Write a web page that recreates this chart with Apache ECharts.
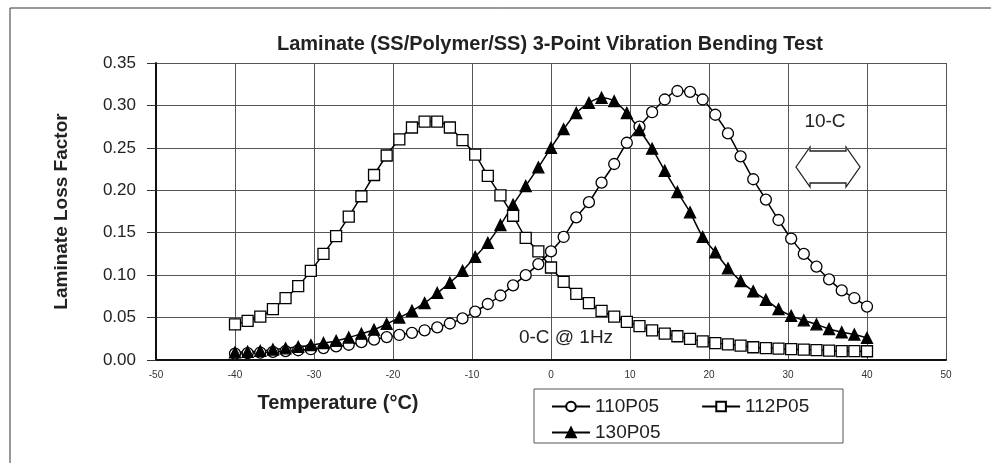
<!DOCTYPE html>
<html>
<head>
<meta charset="utf-8">
<script src="https://cdn.jsdelivr.net/npm/echarts@6/dist/echarts.min.js"></script>
<style>
  html, body { margin: 0; padding: 0; background: #fff; }
  #chart { width: 991px; height: 463px; }
</style>
</head>
<body>
<div id="chart"></div>
<script>
// temperature (°C) of each measured point
const temps = [-40, -38.4, -36.8, -35.2, -33.6, -32, -30.4, -28.8, -27.2, -25.6,
  -24, -22.4, -20.8, -19.2, -17.6, -16, -14.4, -12.8, -11.2, -9.6,
  -8, -6.4, -4.8, -3.2, -1.6, 0, 1.6, 3.2, 4.8, 6.4,
  8, 9.6, 11.2, 12.8, 14.4, 16, 17.6, 19.2, 20.8, 22.4,
  24, 25.6, 27.2, 28.8, 30.4, 32, 33.6, 35.2, 36.8, 38.4, 40];

const loss110 = [0.0075, 0.008, 0.0088, 0.0095, 0.0105, 0.0115, 0.0127, 0.014, 0.016, 0.018,
  0.021, 0.024, 0.027, 0.0295, 0.032, 0.035, 0.0385, 0.043, 0.049, 0.057,
  0.066, 0.076, 0.088, 0.100, 0.113, 0.128, 0.145, 0.168, 0.186, 0.209,
  0.231, 0.256, 0.275, 0.292, 0.307, 0.317, 0.316, 0.307, 0.289, 0.267,
  0.240, 0.213, 0.189, 0.165, 0.143, 0.125, 0.110, 0.095, 0.082, 0.073, 0.063];

const loss112 = [0.042, 0.046, 0.051, 0.060, 0.073, 0.087, 0.105, 0.125, 0.146, 0.169,
  0.193, 0.218, 0.241, 0.260, 0.274, 0.281, 0.281, 0.274, 0.259, 0.242,
  0.217, 0.194, 0.170, 0.144, 0.128, 0.109, 0.092, 0.078, 0.067, 0.058,
  0.051, 0.045, 0.040, 0.035, 0.031, 0.028, 0.025, 0.022, 0.020, 0.0185,
  0.017, 0.015, 0.014, 0.0135, 0.0127, 0.0122, 0.0117, 0.011, 0.0105, 0.0104, 0.0103];

const loss130 = [0.009, 0.0097, 0.0107, 0.0123, 0.0137, 0.0155, 0.0175, 0.020, 0.0225, 0.0265,
  0.031, 0.0357, 0.0425, 0.050, 0.058, 0.067, 0.079, 0.091, 0.105, 0.1215,
  0.138, 0.159, 0.183, 0.205, 0.227, 0.250, 0.272, 0.291, 0.303, 0.309,
  0.305, 0.291, 0.271, 0.249, 0.223, 0.198, 0.174, 0.145, 0.127, 0.108,
  0.093, 0.081, 0.071, 0.060, 0.052, 0.0467, 0.042, 0.0365, 0.0327, 0.030, 0.026];

const xTicks = [-50, 50, 10];      // min, max, step
const yTicks = [0, 0.35, 0.05];

const font = 'Liberation Sans, Arial, sans-serif';
const pairs = vals => temps.map((t, i) => [t, vals[i]]);

function lineSeries(name, vals, symbol, fill) {
  return {
    name: name,
    type: 'line',
    data: pairs(vals),
    smooth: 0.3,
    symbol: symbol,
    symbolSize: 11,
    showAllSymbol: true,
    lineStyle: { color: '#000', width: 1.5 },
    itemStyle: { color: fill, borderColor: '#000', borderWidth: 1.3 },
    emphasis: { disabled: true }
  };
}

const chart = echarts.init(document.getElementById('chart'));

chart.setOption({
  animation: false,
  title: {
    text: 'Laminate (SS/Polymer/SS) 3-Point Vibration Bending Test',
    left: 545,
    top: 29,
    textAlign: 'center',
    textStyle: { fontFamily: font, fontSize: 20, fontWeight: 'bold', color: '#222' }
  },
  grid: { left: 156, right: 45, top: 63, bottom: 103 },
  xAxis: {
    type: 'value',
    min: xTicks[0],
    max: xTicks[1],
    interval: xTicks[2],
    axisLine: { show: true, onZero: false, lineStyle: { color: '#111', width: 2 } },
    axisTick: { show: false },
    axisLabel: { fontFamily: font, fontSize: 10, color: '#333', margin: 10 },
    splitLine: { show: true, lineStyle: { color: '#555', width: 1 } }
  },
  yAxis: {
    type: 'value',
    min: yTicks[0],
    max: yTicks[1],
    interval: yTicks[2],
    name: 'Laminate Loss Factor',
    nameLocation: 'middle',
    nameGap: 85,
    nameTextStyle: { fontFamily: font, fontSize: 19, fontWeight: 'bold', color: '#222' },
    axisLine: { show: true, onZero: false, lineStyle: { color: '#111', width: 2 } },
    axisTick: { show: true, length: 9, lineStyle: { color: '#333' } },
    axisLabel: {
      fontFamily: font, fontSize: 17, color: '#222', margin: 20,
      formatter: v => v.toFixed(2)
    },
    splitLine: { show: true, lineStyle: { color: '#555', width: 1 } }
  },
  legend: [
    {
      data: ['110P05', '112P05'],
      left: 546, top: 392,
      itemWidth: 38, itemHeight: 12, itemGap: 42,
      textStyle: { fontFamily: font, fontSize: 19, color: '#222' }
    },
    {
      data: ['130P05'],
      left: 546, top: 418,
      itemWidth: 38, itemHeight: 12,
      textStyle: { fontFamily: font, fontSize: 19, color: '#222' }
    }
  ],
  series: [
    lineSeries('110P05', loss110, 'circle', '#fff'),
    lineSeries('112P05', loss112, 'rect', '#fff'),
    lineSeries('130P05', loss130, 'triangle', '#000')
  ],
  graphic: [
    // page frame around the figure
    { type: 'line', shape: { x1: 10, y1: 8, x2: 991, y2: 8 }, style: { stroke: '#333', lineWidth: 1 } },
    { type: 'line', shape: { x1: 10, y1: 8, x2: 10, y2: 463 }, style: { stroke: '#333', lineWidth: 1 } },
    // legend box
    { type: 'rect', shape: { x: 534, y: 389, width: 309, height: 54 }, style: { fill: 'none', stroke: '#555', lineWidth: 1 } },
    {
      type: 'text', x: 338, y: 403,
      style: { text: 'Temperature (°C)', font: 'bold 20px ' + font, fill: '#222', textAlign: 'center', textVerticalAlign: 'middle' }
    },
    {
      type: 'text', x: 566, y: 338, z: 10,
      style: { text: '0-C @ 1Hz', font: '19px ' + font, fill: '#222', textAlign: 'center', textVerticalAlign: 'middle' }
    },
    {
      type: 'text', x: 825, y: 122,
      style: { text: '10-C', font: '19px ' + font, fill: '#222', textAlign: 'center', textVerticalAlign: 'middle' }
    },
    {
      type: 'polygon',
      shape: { points: [[796, 167], [810, 147], [810, 151], [846, 151], [846, 147], [860, 167], [846, 187], [846, 183], [810, 183], [810, 187]] },
      style: { fill: '#fff', stroke: '#222', lineWidth: 1.3 }
    }
  ]
});
</script>
</body>
</html>
